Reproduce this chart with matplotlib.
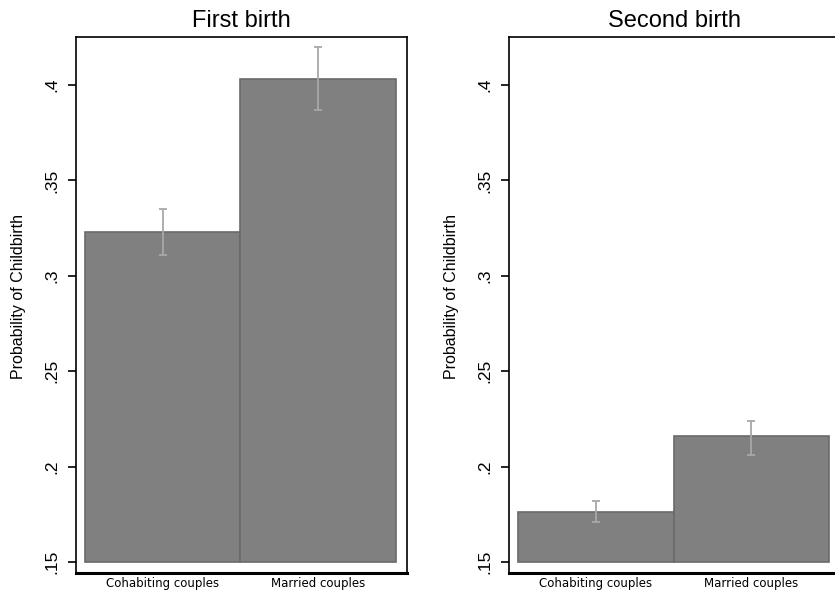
import matplotlib
matplotlib.use("Agg")
import matplotlib.pyplot as plt

plt.rcParams['font.family'] = ['Liberation Sans', 'DejaVu Sans']

groups = ["Cohabiting couples", "Married couples"]
titles = ["First birth", "Second birth"]
probs = [[0.323, 0.403], [0.176, 0.216]]
ci_low = [[0.311, 0.387], [0.171, 0.206]]
ci_high = [[0.335, 0.420], [0.182, 0.224]]
yticks = [0.15, 0.2, 0.25, 0.3, 0.35, 0.4]
ytick_labels = [".15", ".2", ".25", ".3", ".35", ".4"]
base = 0.15

fig = plt.figure(figsize=(8.35, 5.92), dpi=100)
lefts = [0.091, 0.6096]

for k in range(2):
    ax = fig.add_axes([lefts[k], 0.0321, 0.3964, 0.9054])
    x = [0, 1]
    heights = [p - base for p in probs[k]]
    ax.bar(x, heights, width=1.0, bottom=base, color="#808080",
           edgecolor="#6a6a6a", linewidth=1.2)
    yerr = [[probs[k][i] - ci_low[k][i] for i in range(2)],
            [ci_high[k][i] - probs[k][i] for i in range(2)]]
    ax.errorbar(x, probs[k], yerr=yerr, fmt="none", ecolor="#a8a8a8",
                elinewidth=1.3, capsize=3, capthick=1.3)
    ax.set_xlim(-0.558, 1.571)
    ax.set_ylim(0.1442, 0.4252)
    ax.set_yticks(yticks)
    ax.set_yticklabels(ytick_labels, rotation=90, va="center", fontsize=12.5)
    ax.set_xticks(x)
    ax.set_xticklabels(groups, fontsize=8.5, family="DejaVu Sans")
    ax.tick_params(axis="x", length=0, pad=3)
    ax.tick_params(axis="y", length=6, width=1.2, pad=6)
    for s in ["top", "right", "left"]:
        ax.spines[s].set_linewidth(1.2)
    ax.spines["bottom"].set_linewidth(2.2)
    ax.set_ylabel("Probability of Childbirth", fontsize=11.5)
    ax.yaxis.set_label_coords(-0.151, 0.515)
    ax.set_title(titles[k], fontsize=17, pad=7)

fig.savefig("out.png", dpi=100)
